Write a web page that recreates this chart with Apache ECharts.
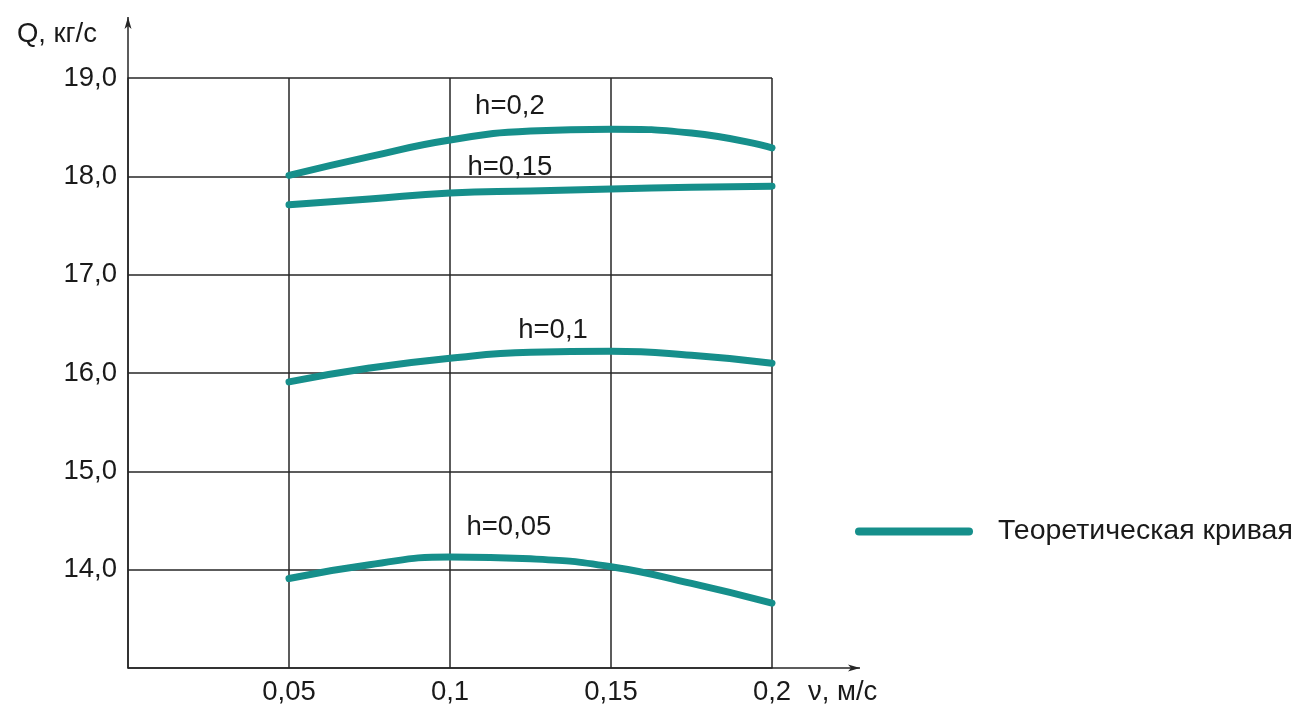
<!DOCTYPE html>
<html>
<head>
<meta charset="utf-8">
<script src="https://cdn.jsdelivr.net/npm/echarts@6/dist/echarts.min.js"></script>
<style>
html,body{margin:0;padding:0;background:#fff;}
#chart{width:1299px;height:706px;}
</style>
</head>
<body>
<div id="chart"></div>
<script>
// ---- data ----
const xValues = [0.05, 0.075, 0.1, 0.125, 0.15, 0.175, 0.2];
const qH020 = [18.01, 18.20, 18.37, 18.46, 18.48, 18.44, 18.29];
const qH015 = [17.71, 17.77, 17.83, 17.85, 17.87, 17.89, 17.90];
const qH010 = [15.91, 16.05, 16.15, 16.21, 16.22, 16.18, 16.10];
const qH005 = [13.91, 14.05, 14.13, 14.11, 14.03, 13.86, 13.66];
const curveLabels = ['h=0,2', 'h=0,15', 'h=0,1', 'h=0,05'];
const seriesName = 'Теоретическая кривая';
const xTicks = [0.05, 0.1, 0.15, 0.2];
const yTicks = [14, 15, 16, 17, 18, 19];
const xAxisTitle = 'ν, м/с';
const yAxisTitle = 'Q, кг/с';

// label anchor points (data units)
const labelAnchors = [[0.1186, 18.715], [0.1186, 18.095], [0.132, 16.437], [0.1183, 14.434]];

const FONT = '"Liberation Sans", Arial, sans-serif';
const FS = 27.5;
const TEAL = '#168f8b';
const GRIDC = '#262626';
const TXT = '#1a1a1a';

const chart = echarts.init(document.getElementById('chart'));

function fmt(v) {
  return String(Math.round(v * 1000) / 1000).replace('.', ',');
}

const allSeries = [qH020, qH015, qH010, qH005].map((arr, i) => ({
  name: seriesName,
  type: 'line',
  smooth: 0.5,
  symbol: 'none',
  data: xValues.map((x, j) => [x, arr[j]]),
  lineStyle: { color: TEAL, width: 7, cap: 'round', join: 'round' },
  itemStyle: { color: TEAL },
  z: 5,
  markPoint: {
    symbol: 'circle',
    symbolSize: 0,
    silent: true,
    label: {
      show: true,
      position: 'inside',
      formatter: curveLabels[i],
      color: TXT,
      fontFamily: FONT,
      fontSize: FS
    },
    data: [{ coord: labelAnchors[i] }]
  }
}));

chart.setOption({
  backgroundColor: '#ffffff',
  animation: false,
  textStyle: { fontFamily: FONT },
  grid: { left: 128, right: 527, top: 78, bottom: 38, containLabel: false },
  legend: {
    data: [seriesName],
    left: 855,
    top: 517,
    padding: 0,
    icon: 'path://M4,0 H114 A4,4 0 0 1 114,8 H4 A4,4 0 0 1 4,0 Z',
    itemWidth: 118,
    itemHeight: 9,
    itemStyle: { color: TEAL },
    textStyle: { fontFamily: FONT, fontSize: 28.5, color: TXT, padding: [0, 0, 0, 20] }
  },
  xAxis: {
    type: 'value',
    min: 0,
    max: 0.2,
    interval: 0.05,
    name: xAxisTitle,
    nameLocation: 'end',
    nameGap: 36,
    nameTextStyle: { fontFamily: FONT, fontSize: FS, color: TXT, verticalAlign: 'top', padding: [10, 0, 0, 0] },
    axisLine: { show: true, lineStyle: { color: GRIDC, width: 1.5 } },
    axisTick: { show: false },
    axisLabel: {
      margin: 10,
      fontFamily: FONT, fontSize: FS, color: TXT,
      formatter: v => xTicks.some(t => Math.abs(t - v) < 1e-9) ? fmt(v) : ''
    },
    splitLine: { show: true, lineStyle: { color: GRIDC, width: 1.5 } }
  },
  yAxis: {
    type: 'value',
    min: 13,
    max: 19,
    interval: 1,
    name: yAxisTitle,
    nameLocation: 'end',
    nameGap: 30,
    nameTextStyle: { fontFamily: FONT, fontSize: FS, color: TXT, align: 'right', padding: [0, 31, 0, 0] },
    axisLine: { show: true, lineStyle: { color: GRIDC, width: 1.5 } },
    axisTick: { show: false },
    axisLabel: {
      margin: 11,
      fontFamily: FONT, fontSize: FS, color: TXT,
      formatter: v => yTicks.includes(Math.round(v)) && Math.abs(v - Math.round(v)) < 1e-9 ? Math.round(v).toFixed(1).replace('.', ',') : ''
    },
    splitLine: { show: true, lineStyle: { color: GRIDC, width: 1.5 } }
  },
  series: allSeries
});

// axis extensions with arrowheads
const topLeft = chart.convertToPixel({ gridIndex: 0 }, [0, 19]);
const rightEnd = chart.convertToPixel({ gridIndex: 0 }, [0.2, 13]);
const yTip = [topLeft[0], topLeft[1] - 61];
const xTip = [rightEnd[0] + 88, rightEnd[1]];
chart.setOption({
  graphic: [
    { type: 'line', shape: { x1: topLeft[0], y1: topLeft[1], x2: yTip[0], y2: yTip[1] }, style: { stroke: GRIDC, lineWidth: 1.5 } },
    { type: 'polygon', shape: { points: [[yTip[0], yTip[1]], [yTip[0] - 3.5, yTip[1] + 12], [yTip[0], yTip[1] + 9], [yTip[0] + 3.5, yTip[1] + 12]] }, style: { fill: GRIDC } },
    { type: 'line', shape: { x1: rightEnd[0], y1: rightEnd[1], x2: xTip[0], y2: xTip[1] }, style: { stroke: GRIDC, lineWidth: 1.5 } },
    { type: 'polygon', shape: { points: [[xTip[0], xTip[1]], [xTip[0] - 12, xTip[1] - 3.5], [xTip[0] - 9, xTip[1]], [xTip[0] - 12, xTip[1] + 3.5]] }, style: { fill: GRIDC } }
  ]
});
</script>
</body>
</html>
